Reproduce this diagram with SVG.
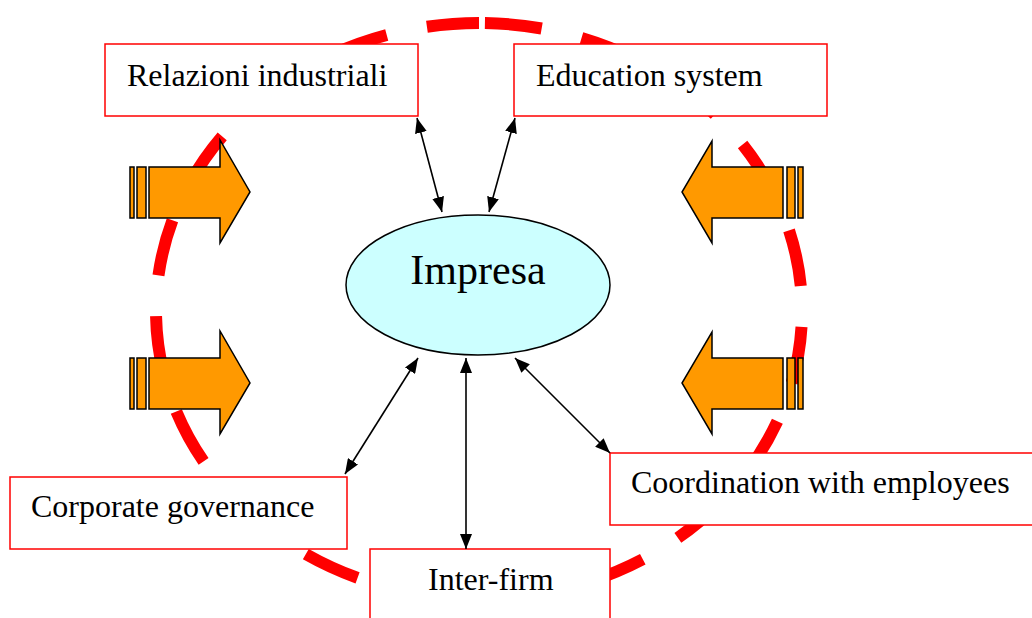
<svg xmlns="http://www.w3.org/2000/svg" width="1032" height="618" viewBox="0 0 1032 618">
<defs>
<style>
.box{fill:#ffffff;stroke:#ff0000;stroke-width:1.5}
.lbl{font-family:"Liberation Serif","Times New Roman",serif;font-size:32px;fill:#000}
.blk{fill:#ff9900;stroke:#000;stroke-width:1.5;stroke-linejoin:miter}
.con{stroke:#000;stroke-width:1.6;fill:none;marker-start:url(#ah);marker-end:url(#ah)}
</style>
<marker id="ah" viewBox="0 0 15 12" refX="15" refY="6" markerWidth="15" markerHeight="12" markerUnits="userSpaceOnUse" orient="auto-start-reverse">
<path d="M0,0 L15,6 L0,12 z" fill="#000"/>
</marker>
</defs>
<rect width="1032" height="618" fill="#ffffff"/>
<g id="ring">
<path d="M479,23 A323,288 0 0 1 479,599 A323,288 0 0 1 479,23 Z" fill="none" stroke="#ff0000" stroke-width="12" stroke-dasharray="57 41" stroke-dashoffset="-6"/>
</g>
<g id="arrow-ul">
<rect class="blk" x="130" y="167" width="4" height="51"/>
<rect class="blk" x="137" y="167" width="9" height="51"/>
<path class="blk" d="M149,167 H220 V140 L250,192 L220,243 V218 H149 Z"/>
</g>
<g id="arrow-ll">
<rect class="blk" x="130" y="358" width="4" height="51"/>
<rect class="blk" x="137" y="358" width="9" height="51"/>
<path class="blk" d="M149,358 H220 V331 L250,383 L220,434 V409 H149 Z"/>
</g>
<g id="arrow-ur">
<rect class="blk" x="798" y="167" width="5" height="51"/>
<rect class="blk" x="787" y="167" width="8" height="51"/>
<path class="blk" d="M783,167 H712 V141 L682,192 L712,243 V218 H783 Z"/>
</g>
<g id="arrow-lr">
<rect class="blk" x="798" y="358" width="5" height="51"/>
<rect class="blk" x="787" y="358" width="8" height="51"/>
<path class="blk" d="M783,358 H712 V332 L682,383 L712,434 V409 H783 Z"/>
</g>
<g id="relazioni">
<rect class="box" x="105" y="44" width="313" height="72"/>
<text class="lbl" x="127" y="86">Relazioni industriali</text>
</g>
<g id="education">
<rect class="box" x="514" y="44" width="313" height="72"/>
<text class="lbl" x="536" y="86">Education system</text>
</g>
<g id="corporate">
<rect class="box" x="10" y="477" width="337" height="72"/>
<text class="lbl" x="31" y="517">Corporate governance</text>
</g>
<g id="coordination">
<rect class="box" x="610" y="453" width="430" height="72"/>
<text class="lbl" x="631" y="493">Coordination with employees</text>
</g>
<g id="interfirm">
<rect class="box" x="370" y="549" width="240" height="80"/>
<text class="lbl" x="428" y="590">Inter-firm</text>
</g>
<g id="impresa">
<ellipse cx="478" cy="285" rx="132" ry="70" fill="#ccffff" stroke="#000" stroke-width="1.5"/>
<text x="478" y="284" text-anchor="middle" font-family="Liberation Serif, Times New Roman, serif" font-size="42" fill="#000">Impresa</text>
</g>
<g id="connectors">
<line class="con" x1="417" y1="118" x2="442" y2="212"/>
<line class="con" x1="515" y1="118" x2="489" y2="212"/>
<line class="con" x1="418" y1="358" x2="345" y2="474"/>
<line class="con" x1="466" y1="358" x2="466" y2="549"/>
<line class="con" x1="515" y1="358" x2="610" y2="453"/>
</g>
</svg>
